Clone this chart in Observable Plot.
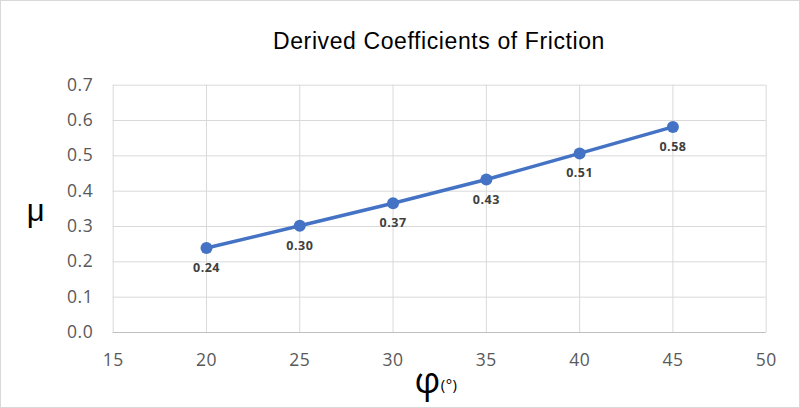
<!DOCTYPE html>
<html>
<head>
<meta charset="utf-8">
<script src="https://cdn.jsdelivr.net/npm/d3@7"></script>
<script src="https://cdn.jsdelivr.net/npm/@observablehq/plot@0.6"></script>
<style>
  html, body { margin: 0; padding: 0; background: #fff; }
  #chart { width: 800px; height: 408px; position: relative; }
  #chart svg { display: block; }
  .frame { position: absolute; left: 0; top: 0; width: 798px; height: 406px; border: 1px solid #d9d9d9; pointer-events: none; }
</style>
</head>
<body>
<div id="chart"><div class="frame"></div></div>
<script>
const title = "Derived Coefficients of Friction";
const angles = [20, 25, 30, 35, 40, 45];
const mu = [0.239, 0.302, 0.366, 0.433, 0.507, 0.582];
const xTicks = [15, 20, 25, 30, 35, 40, 45, 50];
const yTicks = [0, 0.1, 0.2, 0.3, 0.4, 0.5, 0.6, 0.7];

const data = angles.map((a, i) => ({phi: a, mu: mu[i]}));
const tickFont = "'Open Sans', sans-serif";

const chart = Plot.plot({
  width: 800,
  height: 408,
  marginLeft: 112.7,
  marginRight: 34.3,
  marginTop: 84.7,
  marginBottom: 76,
  style: {fontFamily: tickFont, fontSize: "17.5px", color: "#595959", background: "transparent", letterSpacing: "0.5px"},
  x: {domain: [15, 50], ticks: xTicks, label: null},
  y: {domain: [0, 0.7], ticks: yTicks, label: null},
  marks: [
    Plot.gridX(xTicks, {stroke: "#d9d9d9", strokeOpacity: 1, strokeWidth: 1}),
    Plot.gridY(yTicks, {stroke: "#d9d9d9", strokeOpacity: 1, strokeWidth: 1}),
    Plot.ruleY([0], {stroke: "#bfbfbf", strokeWidth: 1}),
    Plot.axisX({ticks: xTicks, tickSize: 0, tickPadding: 21, tickFormat: d => String(d), fontSize: 17.5, fill: "#595959", label: null}),
    Plot.axisY({ticks: yTicks, tickSize: 0, tickPadding: 20, tickFormat: d => d.toFixed(1), fontSize: 17.5, fill: "#595959", label: null}),
    Plot.line(data, {x: "phi", y: "mu", stroke: "#4472c4", strokeWidth: 3.5}),
    Plot.dot(data, {x: "phi", y: "mu", r: 6, fill: "#4472c4", stroke: "none"}),
    Plot.text(data, {x: "phi", y: "mu", text: d => d.mu.toFixed(2), dy: 20, fontSize: 12.5, fontWeight: "bold", fill: "#404040", fontFamily: tickFont}),
  ]
});

const svg = d3.select(chart);
// title
svg.append("text")
  .attr("x", 439).attr("y", 49)
  .attr("text-anchor", "middle")
  .attr("font-family", "'Liberation Sans', Arial, sans-serif")
  .attr("font-size", 23)
  .attr("letter-spacing", 0.6)
  .attr("fill", "#000")
  .text(title);
// axis titles as real text
svg.append("text")
  .attr("x", 36).attr("y", 221)
  .attr("text-anchor", "middle")
  .attr("font-family", "'Liberation Sans', Arial, sans-serif")
  .attr("font-size", 31)
  .attr("fill", "#000")
  .text("μ");
const xt = svg.append("text")
  .attr("x", 436).attr("y", 393)
  .attr("font-family", "'Open Sans', sans-serif")
  .attr("fill", "#000");
xt.append("tspan").attr("font-size", 36).text("φ");
xt.append("tspan").attr("font-size", 15).attr("dy", -3).text("(°)");

document.getElementById("chart").prepend(chart);
</script>
</body>
</html>
